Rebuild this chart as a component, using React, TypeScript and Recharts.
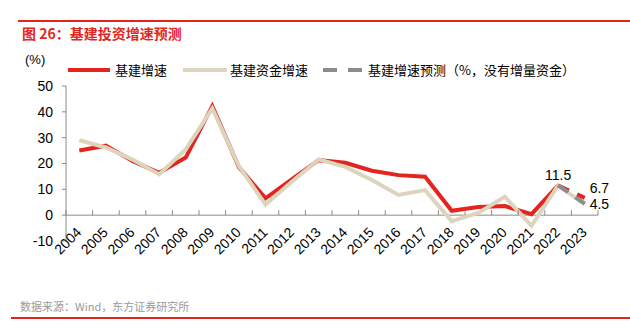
import React from "react";
import { LineChart, Line, XAxis, YAxis, ReferenceLine, LabelList } from "recharts";

const years = ["2004","2005","2006","2007","2008","2009","2010","2011","2012","2013","2014","2015","2016","2017","2018","2019","2020","2021","2022","2023"];
const infraGrowth: (number | null)[] = [25, 26.9, 21, 16.4, 22.3, 42.2, 18.6, 6.5, 14, 21.3, 20.3, 17.2, 15.5, 14.9, 1.7, 3.2, 3.5, 0.4, 11.5, null];
const fundGrowth: (number | null)[] = [29, 26.2, 21.5, 15.8, 25.4, 41.3, 19, 4.1, 13, 21.6, 18.7, 13.6, 7.8, 9.7, -2.3, 0.9, 7.1, -4.1, 11.5, 4.2];
const infraForecast: (number | null)[] = [null, null, null, null, null, null, null, null, null, null, null, null, null, null, null, null, null, null, 11.5, 6.7];
const forecastNoFund: (number | null)[] = [null, null, null, null, null, null, null, null, null, null, null, null, null, null, null, null, null, null, 11.5, 4.5];
const yTicks = [-10, 0, 10, 20, 30, 40, 50];

const data = years.map((y, i) => ({
  x: i + 0.5,
  year: y,
  infra: infraGrowth[i],
  fund: fundGrowth[i],
  infraF: infraForecast[i],
  noFund: forecastNoFund[i],
}));
const xTicks = Array.from({ length: years.length + 1 }, (_, i) => i);

const W = 630;
const H = 325;
const PLOT_LEFT = 66;
const PLOT_RIGHT = 598;
const PLOT_TOP = 86;
const PLOT_BOTTOM = 241;
const Y_MIN = -10;
const Y_MAX = 50;
const yZero = PLOT_TOP + (PLOT_BOTTOM - PLOT_TOP) * (Y_MAX / (Y_MAX - Y_MIN));
const band = (PLOT_RIGHT - PLOT_LEFT) / years.length;

const RED = "#E3251E";
const BEIGE = "#DDD4BD";
const GRAY = "#8C8C8C";
const AXIS = "#8A8A8A";
const FONT = "'Liberation Sans', Arial, 'Noto Sans CJK SC', sans-serif";
const CJK = "'Noto Sans CJK SC', 'Liberation Sans', sans-serif";

const XTick = (props: any) => {
  const { x, payload } = props;
  const v = payload.value as number;
  const lx = x + band / 2 + 3;
  const ly = yZero + 18;
  return (
    <g>
      <line x1={x} x2={x} y1={yZero} y2={yZero - 5} stroke={AXIS} strokeWidth={1} />
      {v < years.length ? (
        <text x={lx} y={ly} transform={`rotate(-45 ${lx} ${ly})`} textAnchor="end" fontSize={14} fill="#000" fontFamily={FONT}>
          {years[v]}
        </text>
      ) : null}
    </g>
  );
};

const makeLabel = (cfg: Record<number, { dx: number; dy: number; anchor: string }>, values: (number | null)[]) => (props: any) => {
  const { x, y, index } = props;
  const c = cfg[index];
  if (!c || values[index] == null) return null;
  return (
    <text x={x + c.dx} y={y + c.dy} textAnchor={c.anchor} dominantBaseline="central" fontSize={14} fill="#000" fontFamily={FONT}>
      {values[index]}
    </text>
  );
};

const redLabel = makeLabel({ 18: { dx: 0, dy: -10, anchor: "middle" }, 19: { dx: 5, dy: -10, anchor: "start" } }, infraForecast);
const grayLabel = makeLabel({ 19: { dx: 5, dy: 0, anchor: "start" } }, forecastNoFund);

export default function App() {
  return (
    <div style={{ position: "absolute", left: 0, top: 0, width: W, height: H, background: "#fff", fontFamily: CJK }}>
      <div style={{ position: "absolute", left: 18, top: 20, width: 612, height: 1.5, background: RED }} />
      <div style={{ position: "absolute", left: 22, top: 24, fontSize: 14, fontWeight: "bold", color: RED, lineHeight: "18px", whiteSpace: "nowrap" }}>
        图 26：基建投资增速预测
      </div>
      <div style={{ position: "absolute", left: 25, top: 51, fontSize: 13, color: "#000", lineHeight: "18px", fontFamily: FONT }}>(%)</div>
      <div style={{ position: "absolute", left: 68, top: 68, width: 42, height: 4, background: RED }} />
      <div style={{ position: "absolute", left: 115, top: 61, fontSize: 13, lineHeight: "18px", color: "#000" }}>基建增速</div>
      <div style={{ position: "absolute", left: 183, top: 68, width: 44, height: 4, background: BEIGE }} />
      <div style={{ position: "absolute", left: 230, top: 61, fontSize: 13, lineHeight: "18px", color: "#000" }}>基建资金增速</div>
      <div style={{ position: "absolute", left: 323, top: 68, width: 14, height: 4, background: GRAY }} />
      <div style={{ position: "absolute", left: 348, top: 68, width: 14, height: 4, background: GRAY }} />
      <div style={{ position: "absolute", left: 368, top: 61, fontSize: 13, lineHeight: "18px", color: "#000", whiteSpace: "nowrap" }}>基建增速预测（%，没有增量资金）</div>
      <div style={{ position: "absolute", left: 20, top: 298, fontSize: 11, lineHeight: "16px", color: "#9A9A9A", whiteSpace: "nowrap" }}>数据来源：Wind，东方证券研究所</div>
      <div style={{ position: "absolute", left: 11, top: 317, width: 619, height: 1.5, background: RED }} />
      <div style={{ position: "absolute", left: 0, top: 0 }}>
        <LineChart
          width={W}
          height={H}
          data={data}
          margin={{ top: PLOT_TOP, right: W - PLOT_RIGHT, bottom: H - PLOT_BOTTOM - 30, left: PLOT_LEFT - 50 }}
        >
          <XAxis
            dataKey="x"
            type="number"
            domain={[0, years.length]}
            ticks={xTicks}
            interval={0}
            axisLine={false}
            tickLine={false}
            height={30}
            tick={<XTick />}
          />
          <YAxis
            domain={[Y_MIN, Y_MAX]}
            ticks={yTicks}
            interval={0}
            width={50}
            axisLine={{ stroke: AXIS }}
            tickLine={{ stroke: AXIS }}
            tickSize={4}
            tickMargin={9}
            tick={{ fontSize: 14, fill: "#000", fontFamily: FONT }}
          />
          <ReferenceLine y={0} stroke={AXIS} strokeWidth={1} />
          <Line dataKey="infra" stroke={RED} strokeWidth={4} dot={false} isAnimationActive={false} connectNulls={false} />
          <Line dataKey="fund" stroke={BEIGE} strokeWidth={4} dot={false} isAnimationActive={false} />
          <Line dataKey="infraF" stroke={RED} strokeWidth={4} strokeDasharray="12 9" dot={false} isAnimationActive={false}>
            <LabelList dataKey="infraF" content={redLabel} />
          </Line>
          <Line dataKey="noFund" stroke={GRAY} strokeWidth={4} strokeDasharray="12 9" dot={false} isAnimationActive={false}>
            <LabelList dataKey="noFund" content={grayLabel} />
          </Line>
        </LineChart>
      </div>
    </div>
  );
}
